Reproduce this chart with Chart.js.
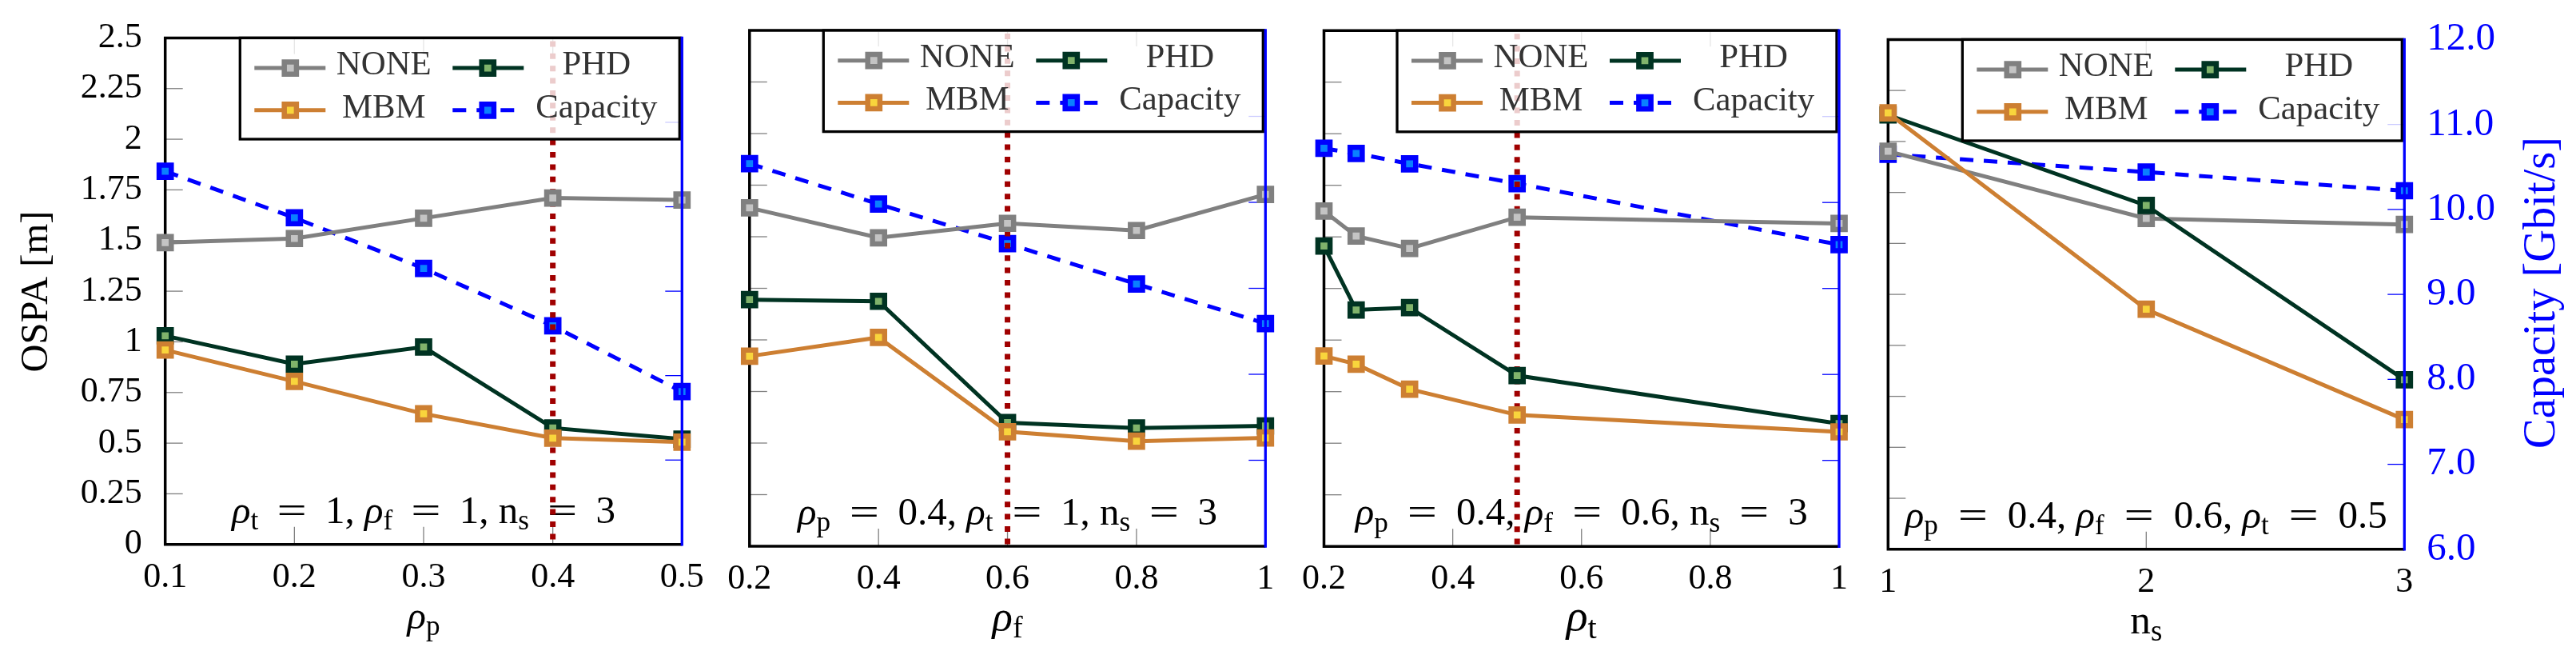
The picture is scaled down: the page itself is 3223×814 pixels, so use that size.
<!DOCTYPE html>
<html><head><meta charset="utf-8">
<script src="https://cdn.jsdelivr.net/npm/chart.js@4.4.1/dist/chart.umd.min.js"></script>
<style>
html,body{margin:0;padding:0;background:#fff;width:3223px;height:814px;overflow:hidden}
canvas{position:absolute;top:0}
</style></head><body>
<canvas id="c1"></canvas><canvas id="c2"></canvas><canvas id="c3"></canvas><canvas id="c4"></canvas>
<script>
// ---------- data ----------
const xP1 = [0.1, 0.2, 0.3, 0.4, 0.5];
const noneP1 = [1.49, 1.51, 1.61, 1.71, 1.70];
const phdP1  = [1.03, 0.89, 0.975, 0.575, 0.52];
const mbmP1  = [0.96, 0.805, 0.645, 0.525, 0.505];
const capP1  = [10.42, 9.87, 9.27, 8.59, 7.81];

const xP2 = [0.2, 0.4, 0.6, 0.8, 1];
const noneP2 = [1.64, 1.495, 1.565, 1.53, 1.705];
const phdP2  = [1.195, 1.187, 0.599, 0.573, 0.583];
const mbmP2  = [0.921, 1.012, 0.555, 0.509, 0.525];
const capP2  = [10.45, 9.98, 9.52, 9.05, 8.59];

const xP3 = [0.2, 0.25, 0.333, 0.5, 1];
const noneP3 = [1.625, 1.504, 1.444, 1.595, 1.565];
const phdP3  = [1.456, 1.146, 1.157, 0.828, 0.595];
const mbmP3  = [0.923, 0.883, 0.762, 0.637, 0.555];
const capP3  = [10.63, 10.57, 10.45, 10.22, 9.51];

const xP4 = [1, 2, 3];
const noneP4 = [1.952, 1.622, 1.593];
const phdP4  = [2.13, 1.686, 0.831];
const mbmP4  = [2.14, 1.177, 0.636];
const capP4  = [10.65, 10.44, 10.22];

const yTicks = [0, 0.25, 0.5, 0.75, 1, 1.25, 1.5, 1.75, 2, 2.25, 2.5];
const yTickLabels = ['0','0.25','0.5','0.75','1','1.25','1.5','1.75','2','2.25','2.5'];
const y2Ticks = [6, 7, 8, 9, 10, 11, 12];
const y2TickLabels = ['6.0','7.0','8.0','9.0','10.0','11.0','12.0'];

const xTicksP1 = [0.1, 0.2, 0.3, 0.4, 0.5];
const xLabelsP1 = ['0.1','0.2','0.3','0.4','0.5'];
const xTicksP23 = [0.2, 0.4, 0.6, 0.8, 1];
const xLabelsP23 = ['0.2','0.4','0.6','0.8','1'];
const xTicksP4 = [1, 2, 3];
const xLabelsP4 = ['1','2','3'];

const seriesNames = ['NONE', 'PHD', 'MBM', 'Capacity'];

// ---------- styles / layout ----------
const FONT = '"Liberation Serif", "Times New Roman", serif';
const STY = {
  NONE:     {line:'#808080', fill:'#c4c4c4', dash:[]},
  PHD:      {line:'#003322', fill:'#80b36b', dash:[]},
  MBM:      {line:'#cd7f32', fill:'#f9d53c', dash:[]},
  Capacity: {line:'#0000ff', fill:'#0a80ff', dash:[17,13]}
};
const LEG_TEXT_W = {NONE:117.7, PHD:86, MBM:100, Capacity:157.6};
const PLOT_H = 645;
const S = (t, o) => Object.assign({t}, o || {});
const panels = [
  {id:'c1', cl:0,    cw:895, pl:206.7,  pr:853.3,  top:35.8, xs:xP1, none:noneP1, phd:phdP1, mbm:mbmP1, cap:capP1,
   xmin:0.1, xmax:0.5, xt:xTicksP1, xl:xLabelsP1, showY:true, showY2:false, mark:0.4, noteW:480, titleW:41,
   note:[S('ρ',{it:1}),S('t',{sub:1}),S('=',{eq:1}),S('1, '),S('ρ',{it:1}),S('f',{sub:1}),S('=',{eq:1}),S('1, '),S('n'),S('s',{sub:1}),S('=',{eq:1}),S('3')],
   title:[S('ρ',{it:1}),S('p',{sub:1})]},
  {id:'c2', cl:895,  cw:725, pl:937.8,  pr:1583.3, top:38.0, xs:xP2, none:noneP2, phd:phdP2, mbm:mbmP2, cap:capP2,
   xmin:0.2, xmax:1, xt:xTicksP23, xl:xLabelsP23, showY:false, showY2:false, mark:0.6, noteW:525, titleW:38,
   note:[S('ρ',{it:1}),S('p',{sub:1}),S('=',{eq:1}),S('0.4, '),S('ρ',{it:1}),S('t',{sub:1}),S('=',{eq:1}),S('1, '),S('n'),S('s',{sub:1}),S('=',{eq:1}),S('3')],
   title:[S('ρ',{it:1}),S('f',{sub:1})]},
  {id:'c3', cl:1620, cw:710, pl:1656.5, pr:2301.0, top:38.2, xs:xP3, none:noneP3, phd:phdP3, mbm:mbmP3, cap:capP3,
   xmin:0.2, xmax:1, xt:xTicksP23, xl:xLabelsP23, showY:false, showY2:false, mark:0.5, noteW:566, titleW:38,
   note:[S('ρ',{it:1}),S('p',{sub:1}),S('=',{eq:1}),S('0.4, '),S('ρ',{it:1}),S('f',{sub:1}),S('=',{eq:1}),S('0.6, '),S('n'),S('s',{sub:1}),S('=',{eq:1}),S('3')],
   title:[S('ρ',{it:1}),S('t',{sub:1})]},
  {id:'c4', cl:2330, cw:893, pl:2362.3, pr:3008.3, top:41.8, xs:xP4, none:noneP4, phd:phdP4, mbm:mbmP4, cap:capP4,
   xmin:1, xmax:3, xt:xTicksP4, xl:xLabelsP4, showY:false, showY2:true, mark:null, noteW:603, titleW:40,
   note:[S('ρ',{it:1}),S('p',{sub:1}),S('=',{eq:1}),S('0.4, '),S('ρ',{it:1}),S('f',{sub:1}),S('=',{eq:1}),S('0.6, '),S('ρ',{it:1}),S('t',{sub:1}),S('=',{eq:1}),S('0.5')],
   title:[S('n'),S('s',{sub:1})]}
];

// ---------- helpers ----------
function segFont(s, size){ return (s.it ? 'italic ' : '') + (s.sub ? size*0.72 : size) + 'px ' + FONT; }
function rawW(ctx, s, size){ ctx.font = segFont(s, size); return ctx.measureText(s.t).width * (s.eq ? 1.35 : 1); }
// draw rich text; if eqFit, spacing around '=' is stretched to reach targetW, else font is scaled to targetW
function drawRich(ctx, segs, cx, base, size, color, targetW, eqFit){
  let base0 = 0, nEq = 0;
  for (const s of segs){ base0 += rawW(ctx, s, size); if (s.eq) nEq++; }
  let gap = 0;
  if (eqFit && nEq){ gap = Math.max(0.15*size, (targetW - base0) / (2*nEq)); }
  else if (targetW){ size = size * targetW / base0; }
  let tot = 0; for (const s of segs) tot += rawW(ctx, s, size) + (s.eq ? 2*gap : 0);
  let x = cx - tot/2;
  ctx.fillStyle = color; ctx.textBaseline = 'alphabetic'; ctx.textAlign = 'left';
  for (const s of segs){
    const w = rawW(ctx, s, size);
    ctx.font = segFont(s, size);
    if (s.eq){
      ctx.save(); ctx.translate(x + gap, base); ctx.scale(1.35, 1); ctx.fillText(s.t, 0, 0); ctx.restore();
      x += w + 2*gap;
    } else {
      ctx.fillText(s.t, x, base + (s.sub ? size*0.17 : 0));
      x += w;
    }
  }
}
function fitSize(ctx, text, base, targetW){ ctx.font = base + 'px ' + FONT; return base * targetW / ctx.measureText(text).width; }
function seg(ctx, x1, y1, x2, y2){ ctx.beginPath(); ctx.moveTo(x1,y1); ctx.lineTo(x2,y2); ctx.stroke(); }
function square(ctx, cx, cy, side, bw, stroke, fill){
  ctx.fillStyle = fill; ctx.strokeStyle = stroke; ctx.lineWidth = bw; ctx.setLineDash([]);
  ctx.beginPath(); ctx.rect(cx-side/2, cy-side/2, side, side); ctx.fill(); ctx.stroke();
}

function makePlugin(p){ return {
  id: 'panelDecor',
  beforeDatasetsDraw(chart){
    const ctx = chart.ctx, a = chart.chartArea;
    const {x, y, y2} = chart.scales;
    ctx.save();
    ctx.lineWidth = 1.3; ctx.strokeStyle = '#808080'; ctx.setLineDash([]);
    for (const v of yTicks){ const py = y.getPixelForValue(v); seg(ctx, a.left, py, a.left+22, py); }
    for (const v of p.xt){ const px = x.getPixelForValue(v); seg(ctx, px, a.bottom, px, a.bottom-22); seg(ctx, px, a.top, px, a.top+20); }
    ctx.strokeStyle = '#0000ff';
    for (const v of y2Ticks){ const py = y2.getPixelForValue(v); seg(ctx, a.right, py, a.right-21, py); }
    drawRich(ctx, p.note, (a.left+a.right)/2, a.bottom-27, 49, '#000', p.noteW, true);
    ctx.strokeStyle = '#000'; ctx.lineWidth = 3.5;
    ctx.beginPath(); ctx.moveTo(a.right, a.top); ctx.lineTo(a.left, a.top); ctx.lineTo(a.left, a.bottom); ctx.lineTo(a.right, a.bottom); ctx.stroke();
    ctx.restore();
  },
  afterDatasetDraw(chart, args){
    if (args.meta.yAxisID !== 'y2' || p.mark === null) return;
    const ctx = chart.ctx, a = chart.chartArea, px = chart.scales.x.getPixelForValue(p.mark);
    ctx.save(); ctx.strokeStyle = '#a00000'; ctx.lineWidth = 7; ctx.setLineDash([7, 8.4]); ctx.lineCap = 'butt';
    seg(ctx, px, a.top + 4, px, a.bottom); ctx.restore();
  },
  afterDatasetsDraw(chart){
    const ctx = chart.ctx, a = chart.chartArea;
    ctx.save();
    const L = a.right - 553, T = a.top, W = 550, H = 126.6;
    ctx.fillStyle = 'rgba(255,255,255,0.8)'; ctx.fillRect(L, T, W, H);
    ctx.strokeStyle = '#000'; ctx.lineWidth = 3.3; ctx.setLineDash([]); ctx.strokeRect(L, T, W, H);
    // one legend font size fitted to the reference text widths
    let mw = 0, tw = 0; ctx.font = '40px ' + FONT;
    for (const n of seriesNames){ mw += ctx.measureText(n).width; tw += LEG_TEXT_W[n]; }
    const legSize = 40 * tw / mw;
    const cells = [[seriesNames[0], 0, 0], [seriesNames[1], 1, 0], [seriesNames[2], 0, 1], [seriesNames[3], 1, 1]];
    for (const [name, col, row] of cells){
      const st = STY[name];
      const sx = L + (col ? 266 : 18), cy = T + (row ? 90.4 : 37.7), mx = L + (col ? 310 : 63);
      ctx.strokeStyle = st.line; ctx.lineWidth = 5; ctx.setLineDash(st.dash); ctx.lineDashOffset = 0;
      seg(ctx, sx, cy, sx + 89, cy);
      square(ctx, mx, cy, 15.2, 6.5, st.line, st.fill);
      ctx.font = legSize + 'px ' + FONT; ctx.fillStyle = '#333'; ctx.textAlign = 'center'; ctx.textBaseline = 'alphabetic';
      ctx.fillText(name, L + (col ? 446 : 180), T + (row ? 99.4 : 46));
    }
    ctx.strokeStyle = '#0000ff'; ctx.lineWidth = 3.3; ctx.setLineDash([]);
    seg(ctx, a.right, a.top - 1.7, a.right, a.bottom + 1.7);
    drawRich(ctx, p.title, (a.left+a.right)/2, a.bottom + 105, 50, '#000', p.titleW, false);
    ctx.textAlign = 'center'; ctx.textBaseline = 'middle';
    if (p.showY){
      const fs = fitSize(ctx, 'OSPA [m]', 46, 202);
      ctx.save(); ctx.translate(46 - p.cl, (a.top+a.bottom)/2 + 0.5); ctx.rotate(-Math.PI/2);
      ctx.font = fs + 'px ' + FONT; ctx.fillStyle = '#000'; ctx.fillText('OSPA [m]', 0, 0); ctx.restore();
    }
    if (p.showY2){
      const fs = fitSize(ctx, 'Capacity [Gbit/s]', 52, 390);
      ctx.save(); ctx.translate(3181 - p.cl, 366); ctx.rotate(-Math.PI/2);
      ctx.font = fs + 'px ' + FONT; ctx.fillStyle = '#0000ff'; ctx.fillText('Capacity [Gbit/s]', 0, 0); ctx.restore();
    }
    ctx.restore();
  }
}; }

function mkSet(name, xs, ys, axis, order){
  const st = STY[name];
  return {
    label: name, yAxisID: axis, order: order, clip: false,
    data: xs.map((x, i) => ({x: x, y: ys[i]})),
    borderColor: st.line, borderWidth: 5, borderDash: st.dash, tension: 0, fill: false,
    pointStyle: 'rect', pointRadius: 10.75, pointBorderWidth: 6.5,
    pointBorderColor: st.line, pointBackgroundColor: st.fill, pointHoverRadius: 10.75
  };
}

for (const p of panels){
  const cv = document.getElementById(p.id);
  cv.width = p.cw; cv.height = 814; cv.style.left = p.cl + 'px';
  cv.style.width = p.cw + 'px'; cv.style.height = '814px';
  new Chart(cv, {
    type: 'line',
    data: { datasets: [
      mkSet('MBM', p.xs, p.mbm, 'y', 1),
      mkSet('PHD', p.xs, p.phd, 'y', 2),
      mkSet('NONE', p.xs, p.none, 'y', 3),
      mkSet('Capacity', p.xs, p.cap, 'y2', 4)
    ]},
    options: {
      responsive: false, animation: false, devicePixelRatio: 1,
      layout: { padding: {top: p.top, left: 0, right: 0, bottom: 0}, autoPadding: false },
      plugins: { legend: {display: false}, tooltip: {enabled: false} },
      events: [],
      scales: {
        x: { type: 'linear', position: 'bottom', min: p.xmin, max: p.xmax,
             afterBuildTicks: s => { s.ticks = p.xt.map(v => ({value: v})); },
             ticks: { callback: (v, i) => p.xl[i], font: {family: FONT, size: 44}, color: '#000', padding: 7, maxRotation: 0, autoSkip: false },
             grid: { display: false }, border: { display: false },
             afterFit: s => { s.height = 814 - p.top - PLOT_H; } },
        y: { type: 'linear', position: 'left', min: 0, max: 2.5,
             afterBuildTicks: s => { s.ticks = yTicks.map(v => ({value: v})); },
             ticks: { display: p.showY, callback: (v, i) => yTickLabels[i], font: {family: FONT, size: 44}, color: '#000', padding: 21 },
             grid: { display: false }, border: { display: false },
             afterFit: s => { s.width = p.pl - p.cl; } },
        y2: { type: 'linear', position: 'right', min: 6, max: 12,
             afterBuildTicks: s => { s.ticks = y2Ticks.map(v => ({value: v})); },
             ticks: { display: p.showY2, callback: (v, i) => y2TickLabels[i], font: {family: FONT, size: 49}, color: '#0000ff', padding: 20 },
             grid: { display: false }, border: { display: false },
             afterFit: s => { s.width = p.cl + p.cw - p.pr; } }
      }
    },
    plugins: [makePlugin(p)]
  });
}
</script>
</body></html>
